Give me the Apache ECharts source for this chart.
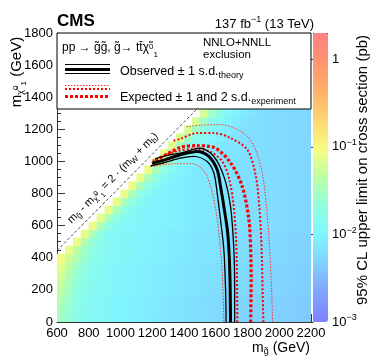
<!DOCTYPE html>
<html><head><meta charset="utf-8">
<script src="https://cdn.jsdelivr.net/npm/echarts@6/dist/echarts.min.js"></script>
<style>html,body{margin:0;padding:0;background:#fff}#c{width:374px;height:363px}</style>
</head><body><div id="c"></div>
<script>
// ---------------- data ----------------
const mgRange = [600, 2200];          // gluino mass axis (GeV)
const mchiRange = [0, 1800];          // neutralino mass axis (GeV)
const axisStep = 200;
const limitMaxPb = 2;                 // top of colour scale (pb)
const limitMinPb = 0.001;             // bottom of colour scale (pb)
const cbMajorTicks = [0.001, 0.01, 0.1, 1];
const cbMinorTicks = [0.002,0.003,0.004,0.005,0.006,0.007,0.008,0.009,
  0.02,0.03,0.04,0.05,0.06,0.07,0.08,0.09,0.2,0.3,0.4,0.5,0.6,0.7,0.8,0.9,2];

// heat map: bin centres (GeV), bin width 50 GeV
const heatBin = 50;
const heatMg = [625,675,725,775,825,875,925,975,1025,1075,1125,1175,1225,1275,1325,1375,
  1425,1475,1525,1575,1625,1675,1725,1775,1825,1875,1925,1975,2025,2075,2125,2175];
const heatMchi = [0,50,100,150,200,250,300,350,400,450,500,550,600,650,700,750,800,850,
  900,950,1000,1050,1100,1150,1200,1250,1300,1350];
const heatStartIdx = [0,0,0,0,0,0,0,0,0,1,2,3,4,5,6,7,8,9,10,11,12,13,14,15,16,17,18,19];
// log10( 95% CL upper limit on cross section / pb ), one row per m_chi bin
const heatLog10Limit = [
 [-1.55,-1.66,-1.77,-1.85,-1.89,-1.92,-1.95,-1.98,-2.01,-2.03,-2.06,-2.08,-2.10,-2.12,-2.14,-2.16,-2.18,-2.20,-2.21,-2.23,-2.24,-2.26,-2.27,-2.29,-2.30,-2.31,-2.32,-2.33,-2.34,-2.35,-2.36,-2.37],
 [-1.52,-1.65,-1.76,-1.85,-1.89,-1.92,-1.95,-1.98,-2.01,-2.03,-2.06,-2.08,-2.10,-2.12,-2.14,-2.16,-2.18,-2.20,-2.21,-2.23,-2.24,-2.26,-2.27,-2.29,-2.30,-2.31,-2.32,-2.33,-2.34,-2.35,-2.36,-2.37],
 [-1.48,-1.63,-1.75,-1.85,-1.89,-1.92,-1.95,-1.98,-2.01,-2.03,-2.06,-2.08,-2.10,-2.12,-2.14,-2.16,-2.18,-2.20,-2.21,-2.23,-2.24,-2.26,-2.27,-2.29,-2.30,-2.31,-2.32,-2.33,-2.34,-2.35,-2.36,-2.37],
 [-1.43,-1.60,-1.73,-1.84,-1.89,-1.92,-1.95,-1.98,-2.01,-2.03,-2.06,-2.08,-2.10,-2.12,-2.14,-2.16,-2.18,-2.20,-2.21,-2.23,-2.24,-2.26,-2.27,-2.29,-2.30,-2.31,-2.32,-2.33,-2.34,-2.35,-2.36,-2.37],
 [-1.36,-1.55,-1.70,-1.80,-1.86,-1.89,-1.92,-1.95,-1.98,-2.00,-2.03,-2.05,-2.07,-2.09,-2.11,-2.13,-2.15,-2.17,-2.18,-2.20,-2.21,-2.23,-2.24,-2.26,-2.27,-2.28,-2.29,-2.30,-2.31,-2.32,-2.33,-2.34],
 [-1.28,-1.50,-1.66,-1.77,-1.85,-1.89,-1.92,-1.95,-1.98,-2.00,-2.03,-2.05,-2.07,-2.09,-2.11,-2.13,-2.15,-2.17,-2.18,-2.20,-2.21,-2.23,-2.24,-2.26,-2.27,-2.28,-2.29,-2.30,-2.31,-2.32,-2.33,-2.34],
 [-1.20,-1.45,-1.62,-1.74,-1.83,-1.88,-1.92,-1.95,-1.98,-2.00,-2.03,-2.05,-2.07,-2.09,-2.11,-2.13,-2.15,-2.17,-2.18,-2.20,-2.21,-2.23,-2.24,-2.26,-2.27,-2.28,-2.29,-2.30,-2.31,-2.32,-2.33,-2.34],
 [-1.12,-1.35,-1.55,-1.70,-1.80,-1.86,-1.91,-1.95,-1.98,-2.00,-2.03,-2.05,-2.07,-2.09,-2.11,-2.13,-2.15,-2.17,-2.18,-2.20,-2.21,-2.23,-2.24,-2.26,-2.27,-2.28,-2.29,-2.30,-2.31,-2.32,-2.33,-2.34],
 [-1.05,-1.25,-1.45,-1.62,-1.75,-1.83,-1.88,-1.92,-1.95,-1.97,-2.00,-2.02,-2.04,-2.06,-2.08,-2.10,-2.12,-2.14,-2.15,-2.17,-2.18,-2.20,-2.21,-2.23,-2.24,-2.25,-2.26,-2.27,-2.28,-2.29,-2.30,-2.31],
 [-1.08,-1.35,-1.58,-1.72,-1.82,-1.88,-1.92,-1.95,-1.97,-2.00,-2.02,-2.04,-2.06,-2.08,-2.10,-2.12,-2.14,-2.15,-2.17,-2.18,-2.20,-2.21,-2.23,-2.24,-2.25,-2.26,-2.27,-2.28,-2.29,-2.30,-2.31],
 [-1.10,-1.42,-1.66,-1.80,-1.87,-1.92,-1.95,-1.97,-2.00,-2.02,-2.04,-2.06,-2.08,-2.10,-2.12,-2.14,-2.15,-2.17,-2.18,-2.20,-2.21,-2.23,-2.24,-2.25,-2.26,-2.27,-2.28,-2.29,-2.30,-2.31],
 [-1.10,-1.48,-1.72,-1.87,-1.92,-1.95,-1.97,-2.00,-2.02,-2.04,-2.06,-2.08,-2.10,-2.12,-2.14,-2.15,-2.17,-2.18,-2.20,-2.21,-2.23,-2.24,-2.25,-2.26,-2.27,-2.28,-2.29,-2.30,-2.31],
 [-1.10,-1.48,-1.72,-1.87,-1.91,-1.93,-1.96,-1.98,-2.00,-2.02,-2.04,-2.06,-2.08,-2.10,-2.11,-2.13,-2.14,-2.16,-2.17,-2.19,-2.20,-2.21,-2.22,-2.23,-2.24,-2.25,-2.26,-2.27],
 [-1.10,-1.48,-1.72,-1.87,-1.93,-1.96,-1.98,-2.00,-2.02,-2.04,-2.06,-2.08,-2.10,-2.11,-2.13,-2.14,-2.16,-2.17,-2.19,-2.20,-2.21,-2.22,-2.23,-2.24,-2.25,-2.26,-2.27],
 [-1.10,-1.48,-1.72,-1.87,-1.96,-1.98,-2.00,-2.02,-2.04,-2.06,-2.08,-2.10,-2.11,-2.13,-2.14,-2.16,-2.17,-2.19,-2.20,-2.21,-2.22,-2.23,-2.24,-2.25,-2.26,-2.27],
 [-1.10,-1.48,-1.72,-1.87,-1.97,-2.00,-2.02,-2.04,-2.06,-2.08,-2.10,-2.11,-2.13,-2.14,-2.16,-2.17,-2.19,-2.20,-2.21,-2.22,-2.23,-2.24,-2.25,-2.26,-2.27],
 [-1.10,-1.48,-1.72,-1.87,-1.97,-2.02,-2.04,-2.06,-2.08,-2.10,-2.11,-2.13,-2.14,-2.16,-2.17,-2.19,-2.20,-2.21,-2.22,-2.23,-2.24,-2.25,-2.26,-2.27],
 [-1.10,-1.48,-1.72,-1.87,-1.97,-2.04,-2.06,-2.08,-2.10,-2.11,-2.13,-2.14,-2.16,-2.17,-2.19,-2.20,-2.21,-2.22,-2.23,-2.24,-2.25,-2.26,-2.27],
 [-1.10,-1.48,-1.72,-1.87,-1.97,-2.05,-2.08,-2.10,-2.11,-2.13,-2.14,-2.16,-2.17,-2.19,-2.20,-2.21,-2.22,-2.23,-2.24,-2.25,-2.26,-2.27],
 [-1.10,-1.48,-1.72,-1.87,-1.97,-2.05,-2.10,-2.11,-2.13,-2.14,-2.16,-2.17,-2.19,-2.20,-2.21,-2.22,-2.23,-2.24,-2.25,-2.26,-2.27],
 [-1.10,-1.48,-1.72,-1.87,-1.97,-2.05,-2.11,-2.13,-2.14,-2.16,-2.17,-2.19,-2.20,-2.21,-2.22,-2.23,-2.24,-2.25,-2.26,-2.27],
 [-1.12,-1.49,-1.73,-1.88,-1.98,-2.05,-2.12,-2.14,-2.16,-2.17,-2.19,-2.20,-2.21,-2.22,-2.23,-2.24,-2.25,-2.26,-2.27],
 [-1.15,-1.50,-1.74,-1.88,-1.98,-2.06,-2.12,-2.16,-2.17,-2.19,-2.20,-2.21,-2.22,-2.23,-2.24,-2.25,-2.26,-2.27],
 [-1.18,-1.52,-1.75,-1.89,-1.99,-2.06,-2.13,-2.17,-2.19,-2.20,-2.21,-2.22,-2.23,-2.24,-2.25,-2.26,-2.27],
 [-1.20,-1.53,-1.76,-1.90,-1.99,-2.07,-2.13,-2.19,-2.20,-2.21,-2.22,-2.23,-2.24,-2.25,-2.26,-2.27],
 [-1.22,-1.55,-1.77,-1.90,-2.00,-2.07,-2.14,-2.20,-2.21,-2.22,-2.23,-2.24,-2.25,-2.26,-2.27],
 [-1.22,-1.55,-1.77,-1.91,-2.00,-2.08,-2.14,-2.21,-2.22,-2.23,-2.24,-2.25,-2.26,-2.27],
 [-1.22,-1.55,-1.77,-1.91,-2.00,-2.08,-2.15,-2.22,-2.23,-2.24,-2.25,-2.26,-2.27]
];

// exclusion contours [m_gluino, m_chi] (GeV)
const observed = [[1198,989],[1283,1011],[1378,1042],[1483,1062],[1556,1031],[1609,948],[1630,844],[1651,720],[1673,574],[1683,450],[1690,263],[1693,0]];
const observedUp = [[1220,1017],[1315,1042],[1378,1052],[1504,1083],[1588,1031],[1651,907],[1693,720],[1714,450],[1719,200],[1719,0]];
const observedDown = [[1189,973],[1283,995],[1378,1021],[1462,1031],[1546,1000],[1588,928],[1609,803],[1630,637],[1651,450],[1662,200],[1665,0]];
const expected = [[1220,1005],[1300,1050],[1378,1088],[1473,1098],[1586,1088],[1693,992],[1767,844],[1809,637],[1820,450],[1823,263],[1820,0]];
const expectedUp1 = [[1334,1129],[1378,1141],[1483,1177],[1588,1177],[1693,1146],[1799,1073],[1851,917],[1876,699],[1889,449],[1895,200],[1900,0]];
const expectedDown1 = [[1203,1004],[1346,1061],[1472,1079],[1567,1060],[1643,998],[1686,886],[1712,730],[1728,512],[1734,263],[1736,0]];
const expectedUp2 = [[1416,1216],[1504,1226],[1630,1229],[1712,1210],[1799,1156],[1851,1073],[1895,917],[1921,699],[1940,449],[1952,200],[1958,0]];
const expectedDown2 = [[1189,967],[1346,986],[1453,986],[1529,936],[1574,824],[1605,668],[1627,481],[1643,263],[1651,0]];
// kinematic line m_gluino - m_chi = 2 (m_W + m_b)
const diagLine = [[600,445],[1500,1345]];

// ---------------- chart ----------------
const FONT = '"Liberation Sans", Arial, Helvetica, sans-serif';
const cbColors = ['#8080ff','#80a4ff','#80d0ff','#80f4ff','#90ffe0','#bcffa4','#f8fc80','#ffd474','#ffb068','#ff9470','#ff8080'];

const heatData = [];
heatMchi.forEach((y, r) => {
  heatLog10Limit[r].forEach((v, j) => heatData.push([heatMg[heatStartIdx[r] + j], y, v]));
});

const chart = echarts.init(document.getElementById('c'), null, {renderer: 'canvas'});

function contour(data, color, width, dash, z) {
  return {type: 'line', data: data, xAxisIndex: 0, yAxisIndex: 0, showSymbol: false, symbol: 'none',
    smooth: 0.3, clip: true, z: z, silent: true,
    lineStyle: {color: color, width: width, type: dash || 'solid', cap: 'butt'}};
}

const axisCol = '#333';
const rich = {
  sub: {fontFamily: FONT, fontSize: 9, padding: [7, 0, 0, 0]},
  sup: {fontFamily: FONT, fontSize: 9, padding: [0, 0, 8, 0]},
  ss: {fontFamily: FONT, fontSize: 8, padding: [0, 0, 2, 0]},
  sb: {fontFamily: FONT, fontSize: 8, padding: [13, 0, 0, 0]}
};
const richSmall = {
  sub: {fontFamily: FONT, fontSize: 8, padding: [6, 0, 0, 0]},
  ss: {fontFamily: FONT, fontSize: 7, padding: [0, 0, 2, 0]},
  sb: {fontFamily: FONT, fontSize: 7, padding: [11, 0, 0, 0]}
};

function txt(x, y, text, size, opts) {
  opts = opts || {};
  return {type: 'text', x: x, y: y, z: 110, rotation: opts.rot || 0,
    style: {text: text, fill: '#000', font: (opts.bold ? 'bold ' : '') + size + 'px ' + FONT,
      align: opts.align || 'left', verticalAlign: 'middle', rich: opts.rich}};
}
function seg(x1, x2, y, color, w, dash) {
  return {type: 'line', z: 110, shape: {x1: x1, y1: y, x2: x2, y2: y},
    style: {stroke: color, lineWidth: w, lineDash: dash || null}};
}
const plainNum = v => String(v);

const option = {
  animation: false,
  backgroundColor: '#fff',
  grid: [
    {left: 57, top: 33, width: 254, height: 289},
    {left: 313, top: 33, width: 15, height: 289}
  ],
  xAxis: [
    {gridIndex: 0, type: 'value', min: mgRange[0], max: mgRange[1], interval: axisStep,
      axisLine: {show: true, onZero: false, lineStyle: {color: axisCol}},
      axisTick: {show: true, inside: true, length: 8, lineStyle: {color: axisCol}},
      minorTick: {show: true, splitNumber: 5, length: 4, lineStyle: {color: axisCol}},
      splitLine: {show: false},
      axisLabel: {color: '#000', fontSize: 13, fontFamily: FONT, margin: 5, formatter: plainNum,
        showMinLabel: true, showMaxLabel: true, hideOverlap: false}},
    {gridIndex: 1, type: 'value', min: 0, max: 1, show: false}
  ],
  yAxis: [
    {gridIndex: 0, type: 'value', min: mchiRange[0], max: mchiRange[1], interval: axisStep,
      axisLine: {show: true, onZero: false, lineStyle: {color: axisCol}},
      axisTick: {show: true, inside: true, length: 8, lineStyle: {color: axisCol}},
      minorTick: {show: true, splitNumber: 4, length: 4, lineStyle: {color: axisCol}},
      splitLine: {show: false},
      axisLabel: {color: '#000', fontSize: 13, fontFamily: FONT, margin: 4, formatter: plainNum}},
    {gridIndex: 1, type: 'value', position: 'right', min: Math.log10(limitMinPb), max: Math.log10(limitMaxPb),
      axisLine: {show: true, lineStyle: {color: '#555'}},
      axisTick: {show: true, inside: true, length: 8, lineStyle: {color: '#333'},
        customValues: cbMajorTicks.map(v => Math.log10(v))},
      splitLine: {show: false},
      axisLabel: {color: '#000', fontSize: 13, fontFamily: FONT, margin: 4,
        customValues: cbMajorTicks.map(v => Math.log10(v)),
        formatter: function (v) {
          const e = Math.round(v);
          return e === 0 ? '1' : '10{sup|\u2212' + Math.abs(e) + '}';
        },
        rich: {sup: {fontSize: 9, fontFamily: FONT, padding: [0, 0, 8, 0]}}}},
    {gridIndex: 1, type: 'value', position: 'right', min: Math.log10(limitMinPb), max: Math.log10(limitMaxPb),
      axisLine: {show: false}, splitLine: {show: false}, axisLabel: {show: false},
      axisTick: {show: true, inside: true, length: 4, lineStyle: {color: '#333'},
        customValues: cbMinorTicks.map(v => Math.log10(v))}}
  ],
  visualMap: {
    type: 'continuous', min: Math.log10(limitMinPb), max: Math.log10(limitMaxPb), dimension: 2,
    seriesIndex: 0, orient: 'vertical', left: 313, top: 33, itemWidth: 15, itemHeight: 289,
    calculable: false, hoverLink: false, padding: 0, inRange: {color: cbColors}
  },
  series: [
    {type: 'custom', xAxisIndex: 0, yAxisIndex: 0, data: heatData, clip: true, z: 1, silent: true,
      encode: {x: 0, y: 1},
      renderItem: function (params, api) {
        const x = api.value(0), y = api.value(1);
        const a = api.coord([x - heatBin / 2, y + heatBin / 2]);
        const b = api.coord([x + heatBin / 2, y - heatBin / 2]);
        return {type: 'rect', shape: {x: a[0], y: a[1], width: b[0] - a[0] + 0.6, height: b[1] - a[1] + 0.6},
          style: {fill: api.visual('color')}};
      }},
    {type: 'line', data: diagLine, xAxisIndex: 0, yAxisIndex: 0, showSymbol: false, symbol: 'none', clip: true, z: 2,
      silent: true, lineStyle: {color: '#555', width: 1, type: [3, 2]}},
    contour(expectedUp2, '#ff3030', 1, [1.5, 1.5], 3),
    contour(expectedDown2, '#ff3030', 1, [1.5, 1.5], 3),
    contour(expectedUp1, '#ff0000', 2, [2, 2], 3),
    contour(expectedDown1, '#ff0000', 2, [2, 2], 3),
    contour(expected, '#ff0000', 3.2, [3, 2], 4),
    contour(observedUp, '#000', 1.3, null, 5),
    contour(observedDown, '#000', 1.3, null, 5),
    contour(observed, '#000', 3, null, 6)
  ],
  graphic: [
    {type: 'rect', z: 100, shape: {x: 57, y: 33, width: 254, height: 76},
      style: {fill: '#fff', stroke: '#000', lineWidth: 1}},
    txt(62, 48, 'pp \u2192 g\u0303g\u0303, g\u0303\u2192 tt\u0304\u03c7\u0303{ss|0}{sb|1}', 12, {rich: rich}),
    txt(203, 43, 'NNLO+NNLL', 11.5),
    txt(203, 55, 'exclusion', 11.5),
    seg(65, 110, 64.5, '#000', 1.2),
    seg(65, 110, 69.5, '#000', 3),
    seg(65, 110, 73.5, '#000', 1.2),
    txt(120, 72, 'Observed \u00b1 1 s.d.{sub|theory}', 12.5, {rich: rich}),
    seg(65, 110, 85.5, '#ff3030', 1, [1.5, 1.5]),
    seg(65, 110, 89, '#ff0000', 2, [2, 2]),
    seg(65, 110, 96.5, '#ff0000', 3.2, [3, 2]),
    txt(120, 98, 'Expected \u00b1 1 and 2 s.d.{sub|experiment}', 12.5, {rich: rich}),
    txt(57, 21, 'CMS', 17, {bold: true}),
    txt(314, 24, '137 fb{sup|\u22121} (13 TeV)', 13, {align: 'right', rich: rich}),
    txt(17, 72, 'm{sub|\u03c7\u0303}{ss|0}{sb|1} (GeV)', 15, {rot: Math.PI / 2, align: 'center', rich: rich}),
    txt(310, 348, 'm{sub|g\u0303} (GeV)', 14, {align: 'right', rich: rich}),
    txt(363, 170, '95% CL upper limit on cross section (pb)', 15, {rot: Math.PI / 2, align: 'center'}),
    Object.assign(txt(113, 178, 'm{sub|g\u0303} - m{sub|\u03c7\u0303}{ss|0}{sb|1} = 2 \u00b7 (m{sub|W} + m{sub|b})', 11,
      {rot: Math.PI / 4, align: 'center', rich: richSmall}), {z: 50})
  ]
};
chart.setOption(option);
</script></body></html>
